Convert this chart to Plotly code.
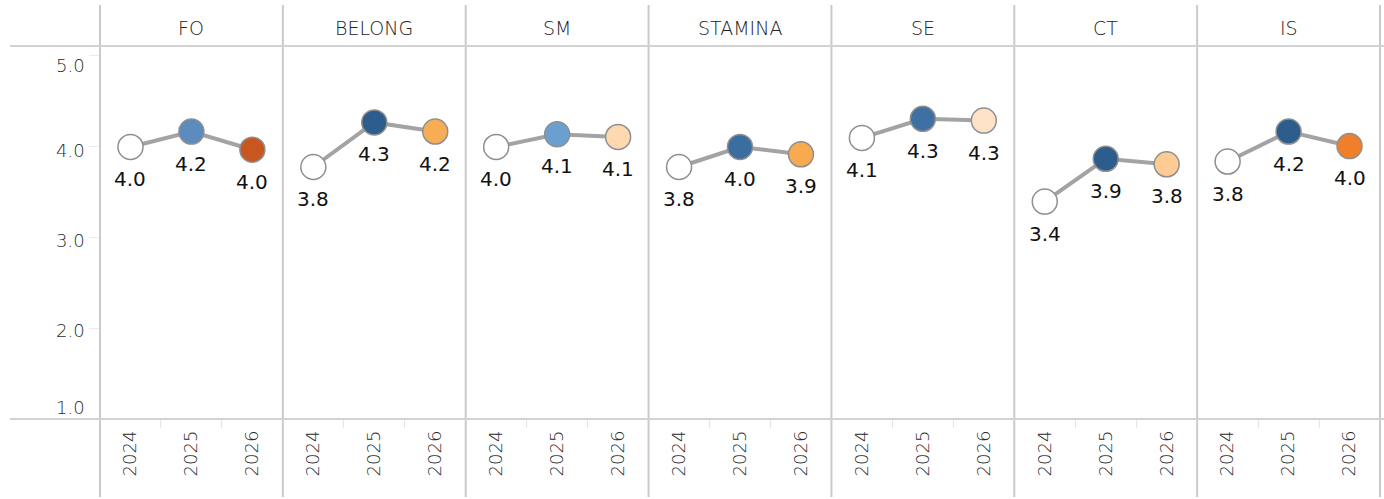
import plotly.graph_objects as go

# ---- data -------------------------------------------------------------
measures = ["FO", "BELONG", "SM", "STAMINA", "SE", "CT", "IS"]
years = ["2024", "2025", "2026"]

fo_scores = [3.99, 4.16, 3.96]
belong_scores = [3.77, 4.26, 4.16]
sm_scores = [3.99, 4.13, 4.10]
stamina_scores = [3.77, 3.99, 3.91]
se_scores = [4.09, 4.30, 4.28]
ct_scores = [3.39, 3.86, 3.80]
is_scores = [3.83, 4.16, 4.00]

y_ticks = [1.0, 2.0, 3.0, 4.0, 5.0]

all_scores = [fo_scores, belong_scores, sm_scores, stamina_scores,
              se_scores, ct_scores, is_scores]

# ---- styling ----------------------------------------------------------
point_colors = [
    ["#ffffff", "#5b8cbd", "#c8561f"],
    ["#ffffff", "#2c5d8c", "#f6ad55"],
    ["#ffffff", "#6aa0cf", "#fdd8b0"],
    ["#ffffff", "#3a6ea1", "#f7aa4f"],
    ["#ffffff", "#3f70a4", "#fde2c7"],
    ["#ffffff", "#2c5d8c", "#fdcb93"],
    ["#ffffff", "#2c5d8c", "#ef7f2b"],
]

W, H = 1384, 499
left_px, right_px = 100, 1380
top_px, bottom_px = 46, 419
n = len(measures)
panel_w = (right_px - left_px) / n
y_dom = [(H - bottom_px) / H, (H - top_px) / H]
grid_col = "#cacaca"
axis_font = dict(family="DejaVu Sans", size=18, color="#2a2a2a", weight=300)
label_font = dict(family="DejaVu Sans", size=20, color="#111111")

fig = go.Figure()

for i, (name, vals) in enumerate(zip(measures, all_scores)):
    sfx = "" if i == 0 else str(i + 1)
    fig.add_trace(go.Scatter(
        x=years, y=vals, mode="lines+markers",
        xaxis="x" + sfx, yaxis="y" + sfx,
        line=dict(color="#a3a3a3", width=4),
        marker=dict(size=25, color=point_colors[i],
                    line=dict(color="#8f8f8f", width=1.5)),
        hoverinfo="x+y", showlegend=False,
    ))
    # value labels under each point (category axis -> serial index)
    for k, v in enumerate(vals):
        fig.add_annotation(
            x=k, y=v, xref="x" + sfx, yref="y" + sfx,
            text=f"{v:.1f}", showarrow=False, yshift=-32,
            font=label_font,
        )
    # panel header
    fig.add_annotation(
        x=0.5, xref=f"x{sfx} domain", y=(H - 28) / H, yref="paper",
        yanchor="middle", text=name, showarrow=False,
        font=dict(family="DejaVu Sans", size=19, color="#222222", weight=300),
    )
    x0 = (left_px + i * panel_w) / W
    x1 = (left_px + (i + 1) * panel_w) / W
    fig.layout["xaxis" + sfx] = dict(
        domain=[x0, x1], anchor="y" + sfx, type="category",
        range=[-0.5, 2.5], showgrid=False, zeroline=False, showline=False,
        tickangle=-90, tickfont=axis_font, ticks="outside",
        tickson="boundaries", ticklen=8, tickcolor="#e6e6e6",
        ticklabelstandoff=7, fixedrange=True,
    )
    fig.layout["yaxis" + sfx] = dict(
        domain=y_dom, anchor="x" + sfx, range=[1.0, 5.1],
        showgrid=False, zeroline=False, showline=False,
        showticklabels=False, fixedrange=True,
        tickvals=y_ticks if i == 0 else [],
        ticks="outside" if i == 0 else "", ticklen=10,
        tickcolor="#ececec",
        matches=None if i == 0 else "y",
    )

# y tick labels nudged inward at the ends
tick_shift = {1.0: 12, 2.0: -2, 3.0: -3, 4.0: -4, 5.0: -10}
for t in y_ticks:
    fig.add_annotation(
        x=87 / W, xref="paper", y=t, yref="y", xanchor="right",
        text=f"{t:.1f}", showarrow=False, yshift=tick_shift[t],
        font=dict(family="DejaVu Sans", size=18, color="#2a2a2a", weight=300),
    )

# frame lines: panel separators and header / axis rules
shapes = []
for i in range(n + 1):
    xp = (left_px + i * panel_w) / W
    shapes.append(dict(type="line", xref="paper", yref="paper",
                       x0=xp, x1=xp, y0=(H - 497) / H, y1=(H - 5) / H,
                       line=dict(color=grid_col, width=2)))
for yp in (top_px, bottom_px):
    shapes.append(dict(type="line", xref="paper", yref="paper",
                       x0=10 / W, x1=1, y0=(H - yp) / H, y1=(H - yp) / H,
                       line=dict(color="#d2d2d2", width=2)))

fig.update_layout(
    width=W, height=H, margin=dict(l=0, r=0, t=0, b=0),
    paper_bgcolor="white", plot_bgcolor="white",
    shapes=shapes,
)

fig.write_html("out.html")
